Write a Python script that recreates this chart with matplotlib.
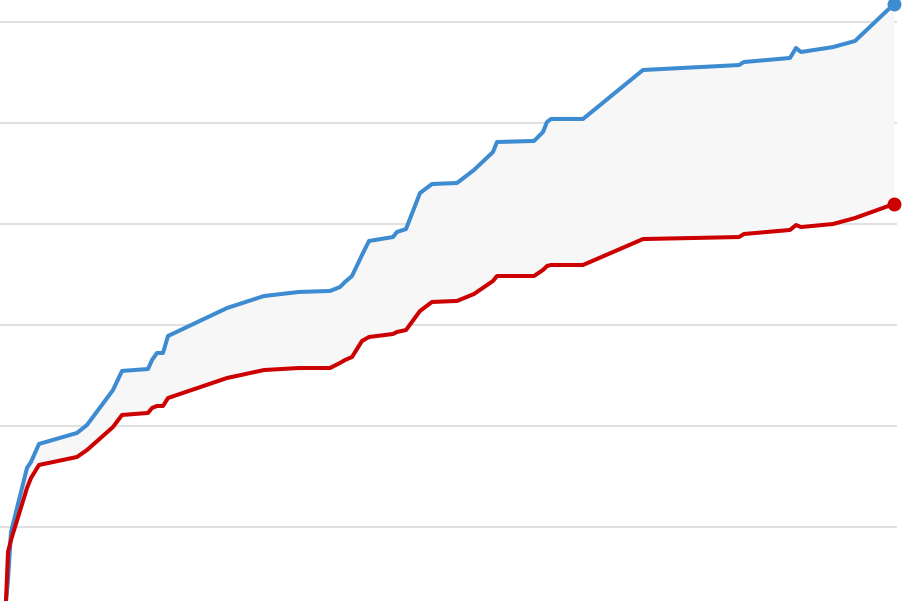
import matplotlib.pyplot as plt

# shared x positions (time steps) for both series
x = [6, 8, 11, 27, 31, 39, 77, 87, 113, 122, 148, 152, 157, 163, 168, 227,
     264, 299, 330, 340, 345, 352, 362, 369, 393, 397, 406, 420, 432, 457,
     474, 493, 497, 534, 543, 547, 551, 583, 643, 739, 744, 790, 796, 801,
     833, 855, 894]

# upper series (blue)
upper = [-7.33, -5.25, -0.50, 5.84, 6.44, 8.22, 9.31, 10.10, 13.56, 15.45,
         15.64, 16.53, 17.23, 17.23, 18.91, 21.68, 22.87, 23.27, 23.37, 23.76,
         24.26, 24.85, 26.93, 28.32, 28.71, 29.21, 29.50, 33.07, 33.96, 34.06,
         35.35, 37.13, 38.12, 38.22, 39.11, 40.10, 40.40, 40.40, 45.25, 45.74,
         46.04, 46.44, 47.43, 47.03, 47.52, 48.12, 51.78]

# lower series (red)
lower = [-7.33, -2.48, -1.29, 3.86, 4.85, 6.14, 6.93, 7.62, 9.90, 11.09,
         11.29, 11.78, 11.98, 11.98, 12.77, 14.75, 15.54, 15.74, 15.74, 16.24,
         16.53, 16.83, 18.42, 18.81, 19.11, 19.31, 19.50, 21.39, 22.28, 22.38,
         23.07, 24.36, 24.85, 24.85, 25.45, 25.84, 25.94, 25.94, 28.51, 28.71,
         29.01, 29.41, 29.90, 29.70, 30.00, 30.59, 31.98]

grid_levels = [0, 10, 20, 30, 40, 50]

fig = plt.figure(figsize=(9.03, 6.01), dpi=100)
ax = fig.add_axes([0, 0, 1, 1])

# light horizontal gridlines
ax.hlines(grid_levels, 0, 897, color='#e0e0e0', linewidth=1.5, zorder=0)

# shaded band between the two lines
ax.fill_between(x, lower, upper, color='#f7f7f7', linewidth=0, zorder=1)

ax.plot(x, upper, color='#3d8bd0', linewidth=2.9, solid_joinstyle='round', zorder=3)
ax.plot(x, lower, color='#cc0000', linewidth=2.9, solid_joinstyle='round', zorder=3)

# end dots
ax.plot(x[-1], upper[-1], 'o', color='#3d8bd0', markersize=9, clip_on=False, zorder=4)
ax.plot(x[-1], lower[-1], 'o', color='#cc0000', markersize=9, clip_on=False, zorder=4)

ax.set_xlim(0, 903)
ax.set_ylim(-7.33, 52.18)
ax.axis('off')

plt.savefig('out.png', dpi=100)
